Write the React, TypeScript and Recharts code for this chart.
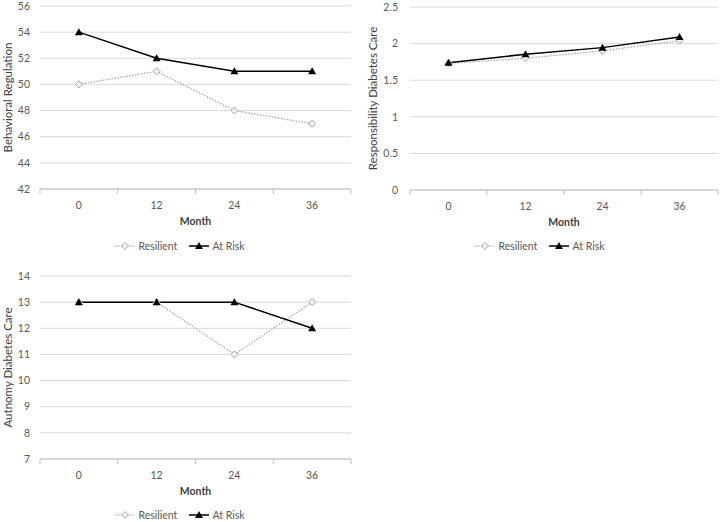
import React from "react";
import {
  LineChart,
  Line,
  XAxis,
  YAxis,
  CartesianGrid,
  Legend,
} from "recharts";

const months = ["0", "12", "24", "36"];

const behavResilient = [50, 51, 48, 47];
const behavAtRisk = [54, 52, 51, 51];
const behavTicks = [42, 44, 46, 48, 50, 52, 54, 56];

const respResilient = [1.73, 1.8, 1.9, 2.04];
const respAtRisk = [1.74, 1.855, 1.945, 2.09];
const respTicks = [0, 0.5, 1, 1.5, 2, 2.5];

const autoResilient = [13, 13, 11, 13];
const autoAtRisk = [13, 13, 13, 12];
const autoTicks = [7, 8, 9, 10, 11, 12, 13, 14];

const GRID = "#d9d9d9";
const AXIS = "#bfbfbf";
const TEXT = "#595959";
const TITLE = "#404040";
const RES = "#a6a6a6";

const buildRows = (res: number[], risk: number[]) =>
  months.map((m, i) => ({ month: m, resilient: res[i], atRisk: risk[i] }));

const Diamond = ({ cx, cy }: any) => (
  <path
    d={`M${cx},${cy - 3.5} L${cx + 3.5},${cy} L${cx},${cy + 3.5} L${cx - 3.5},${cy} Z`}
    fill="#f2f2f2"
    stroke={RES}
    strokeWidth={1}
  />
);

const Triangle = ({ cx, cy }: any) => (
  <path
    d={`M${cx},${cy - 4} L${cx + 4},${cy + 3} L${cx - 4},${cy + 3} Z`}
    fill="#000"
  />
);

const XTick = (props: any) => {
  const { x, y, payload, index, half } = props;
  const last = index === months.length - 1;
  return (
    <g>
      <line x1={x - half} y1={y} x2={x - half} y2={y + 5} stroke={AXIS} />
      {last && <line x1={x + half} y1={y} x2={x + half} y2={y + 5} stroke={AXIS} />}
      <text x={x} y={y + 16} dy="0.35em" textAnchor="middle" fill={TEXT} fontSize={10.5}>
        {payload.value}
      </text>
    </g>
  );
};

const YTitle = (props: any) => {
  const { viewBox, text, tx } = props;
  const cy = viewBox.y + viewBox.height / 2;
  return (
    <text
      x={tx}
      y={cy}
      transform={`rotate(-90 ${tx} ${cy})`}
      textAnchor="middle"
      dominantBaseline="central"
      fill={TITLE}
      fontSize={11.5}
    >
      {text}
    </text>
  );
};

const LegendRow = ({ h }: { h: number }) => (
  <div
    style={{
      display: "flex",
      justifyContent: "center",
      alignItems: "center",
      height: h,
      fontSize: 10.5,
      color: TEXT,
    }}
  >
    <svg width={20} height={10}>
      <line x1={0} y1={5} x2={20} y2={5} stroke={RES} strokeDasharray="1.5 1.5" />
      <Diamond cx={10} cy={5} />
    </svg>
    <span style={{ marginLeft: 3, marginRight: 12 }}>Resilient</span>
    <svg width={20} height={10}>
      <line x1={0} y1={5} x2={20} y2={5} stroke="#000" strokeWidth={1.5} />
      <Triangle cx={10} cy={5} />
    </svg>
    <span style={{ marginLeft: 3 }}>At Risk</span>
  </div>
);

type PanelProps = {
  left: number;
  top: number;
  width: number;
  height: number;
  marginTop: number;
  marginRight: number;
  yWidth: number;
  yGap: number;
  xHeight: number;
  legendH: number;
  res: number[];
  risk: number[];
  ticks: number[];
  yTitle: string;
  titleX: number;
};

const Panel = (p: PanelProps) => {
  const rows = buildRows(p.res, p.risk);
  const plotW = p.width - p.yWidth - p.marginRight;
  const half = plotW / months.length / 2;
  return (
    <div style={{ position: "absolute", left: p.left, top: p.top }}>
      <LineChart
        width={p.width}
        height={p.height}
        data={rows}
        margin={{ top: p.marginTop, right: p.marginRight, bottom: 0, left: 0 }}
      >
        <CartesianGrid vertical={false} stroke={GRID} />
        <XAxis
          dataKey="month"
          scale="band"
          height={p.xHeight}
          axisLine={{ stroke: AXIS }}
          tickLine={false}
          tickSize={0}
          tickMargin={0}
          interval={0}
          tick={<XTick half={half} />}
          label={{
            value: "Month",
            position: "insideTop",
            offset: 28.5,
            fill: TITLE,
            fontSize: 10.5,
            fontWeight: "bold",
          }}
        />
        <YAxis
          width={p.yWidth}
          domain={[p.ticks[0], p.ticks[p.ticks.length - 1]]}
          ticks={p.ticks}
          interval={0}
          axisLine={false}
          tickLine={false}
          tickSize={0}
          tickMargin={p.yGap}
          tick={{ fill: TEXT, fontSize: 10.5 }}
          label={<YTitle text={p.yTitle} tx={p.titleX} />}
        />
        <Legend
          verticalAlign="bottom"
          content={() => <LegendRow h={p.legendH} />}
          wrapperStyle={{ left: 0, width: p.width }}
        />
        <Line
          dataKey="resilient"
          stroke={RES}
          strokeWidth={1.25}
          strokeDasharray="1.5 1.5"
          isAnimationActive={false}
          dot={(d: any) => <Diamond key={`d${d.index}`} cx={d.cx} cy={d.cy} />}
          activeDot={false}
        />
        <Line
          dataKey="atRisk"
          stroke="#000"
          strokeWidth={1.5}
          isAnimationActive={false}
          dot={(d: any) => <Triangle key={`t${d.index}`} cx={d.cx} cy={d.cy} />}
          activeDot={false}
        />
      </LineChart>
    </div>
  );
};

export default function App() {
  return (
    <div
      style={{
        position: "absolute",
        left: 0,
        top: 0,
        width: 720,
        height: 522,
        background: "#fff",
        fontFamily: "Lato, 'Open Sans', sans-serif",
      }}
    >
      <Panel
        left={0}
        top={0}
        width={360}
        height={260}
        marginTop={6}
        marginRight={9}
        yWidth={40}
        yGap={10}
        xHeight={43}
        legendH={28}
        res={behavResilient}
        risk={behavAtRisk}
        ticks={behavTicks}
        yTitle="Behavioral Regulation"
        titleX={7}
      />
      <Panel
        left={360}
        top={0}
        width={360}
        height={260}
        marginTop={7}
        marginRight={2}
        yWidth={50}
        yGap={12}
        xHeight={42}
        legendH={28}
        res={respResilient}
        risk={respAtRisk}
        ticks={respTicks}
        yTitle="Responsibility Diabetes Care"
        titleX={12}
      />
      <Panel
        left={0}
        top={260}
        width={360}
        height={262}
        marginTop={16}
        marginRight={9}
        yWidth={40}
        yGap={10}
        xHeight={49}
        legendH={14}
        res={autoResilient}
        risk={autoAtRisk}
        ticks={autoTicks}
        yTitle="Autnomy Diabetes Care"
        titleX={7}
      />
    </div>
  );
}
